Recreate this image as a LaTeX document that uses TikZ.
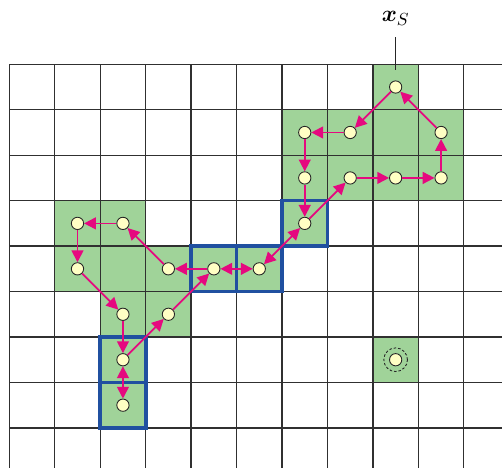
\documentclass[tikz,border=0pt]{standalone}
\usepackage{bm}
\usetikzlibrary{arrows.meta}
\definecolor{cellgreen}{HTML}{A0D399}
\definecolor{arrmag}{HTML}{E5097F}
\definecolor{nodefill}{HTML}{FFFFC4}
\definecolor{boxblue}{HTML}{2050A0}
\definecolor{gridgray}{HTML}{303030}
\begin{document}
\begin{tikzpicture}[x=1cm,y=1cm,
  pt/.style={circle,draw=black!85,fill=nodefill,line width=0.55pt,minimum size=0.27cm,inner sep=0pt},
  arr/.style={draw=arrmag,line width=1.1pt,-{Triangle[length=2.6mm,width=2.6mm]}},
  darr/.style={draw=arrmag,line width=1.1pt,{Triangle[length=2.6mm,width=2.6mm]}-{Triangle[length=2.6mm,width=2.6mm]}},
  bluebox/.style={draw=boxblue,line width=2.3pt},
  gridline/.style={draw=gridgray,line width=0.8pt},
  ring/.style={circle,draw=black!85,dash pattern=on 1.6pt off 1.2pt,line width=0.55pt,minimum size=0.52cm,inner sep=0pt}]
\useasboundingbox (-0.205,-8.882) rectangle (10.84,1.415);
\clip (-0.205,-8.882) rectangle (10.84,1.415);
% green cells
\foreach \c/\r in {8/0,6/1,7/1,8/1,9/1,6/2,7/2,8/2,9/2,1/3,2/3,6/3,1/4,2/4,3/4,4/4,5/4,2/5,3/5,2/6,8/6,2/7}
  \fill[cellgreen] (\c,{-\r-1}) rectangle ++(1,1);
% grid
\draw[gridline] (0,-9) grid (11,0);
% blue boxes
\draw[bluebox] (6,-4) rectangle (7,-3);
\draw[bluebox] (4,-5) rectangle (5,-4);
\draw[bluebox] (5,-5) rectangle (6,-4);
\draw[bluebox] (2,-7) rectangle (3,-6);
\draw[bluebox] (2,-8) rectangle (3,-7);
% label x_S
\node (xs) at (8.5,1.02) {\fontsize{15}{17}\selectfont$\bm{x}_S$};
\coordinate (xst) at (8.5,0.6);
\coordinate (xsb) at (8.5,-0.13);
\draw[line width=0.55pt,black!85] (xst) -- (xsb);
% nodes
\foreach \c/\r in {8/0,7/1,6/1,9/1,6/2,7/2,8/2,9/2,6/3,1/3,2/3,1/4,3/4,4/4,5/4,2/5,3/5,2/6,2/7,8/6}
  \node[pt] (n\c\r) at ({\c+0.5},{-\r-0.5}) {};
\node[ring] (ring) at (n86) {};
% arrows
\draw[arr] (n80) -- (n71);
\draw[arr] (n91) -- (n80);
\draw[arr] (n71) -- (n61);
\draw[arr] (n61) -- (n62);
\draw[arr] (n92) -- (n91);
\draw[arr] (n62) -- (n63);
\draw[arr] (n63) -- (n72);
\draw[arr] (n72) -- (n82);
\draw[arr] (n82) -- (n92);
\draw[darr] (n63) -- (n54);
\draw[darr] (n54) -- (n44);
\draw[arr] (n44) -- (n34);
\draw[arr] (n34) -- (n23);
\draw[arr] (n23) -- (n13);
\draw[arr] (n13) -- (n14);
\draw[arr] (n14) -- (n25);
\draw[arr] (n25) -- (n26);
\draw[arr] (n26) -- (n35);
\draw[arr] (n35) -- (n44);
\draw[darr] (n26) -- (n27);
\end{tikzpicture}
\end{document}
